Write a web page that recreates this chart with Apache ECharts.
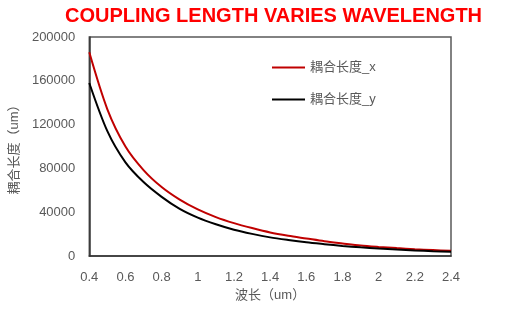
<!DOCTYPE html>
<html>
<head>
<meta charset="utf-8">
<script src="https://cdn.jsdelivr.net/npm/echarts@6/dist/echarts.min.js"></script>
<style>
  html, body { margin: 0; padding: 0; background: #fff; }
  #chart { width: 510px; height: 330px; }
</style>
</head>
<body>
<div id="chart"></div>
<script>
// Wavelength samples (um)
const wavelengths = [0.4, 0.5, 0.6, 0.7, 0.8, 0.9, 1.0, 1.1, 1.2, 1.3, 1.4, 1.5, 1.6, 1.7, 1.8, 1.9, 2.0, 2.1, 2.2, 2.3, 2.4];
// Coupling length, x polarisation (um)
const lengthX = [186000, 134000, 100000, 78500, 63000, 51500, 42500, 35500, 30000, 25500, 21500, 18500, 16000, 13500, 11500, 9600, 8300, 7200, 6200, 5400, 4700];
// Coupling length, y polarisation (um)
const lengthY = [158000, 114000, 85500, 67500, 54000, 43000, 35000, 29000, 24000, 20200, 17000, 14600, 12500, 10800, 9200, 7900, 6800, 5900, 5100, 4400, 3900];
const seriesNames = ['耦合长度_x', '耦合长度_y'];

const pairs = (xs, ys) => xs.map((x, i) => [x, ys[i]]);
const gray = '#595959';
const font = '"Liberation Sans", "Noto Sans CJK SC", sans-serif';

const chart = echarts.init(document.getElementById('chart'), null, { renderer: 'canvas' });
chart.setOption({
  animation: false,
  backgroundColor: '#fff',
  title: {
    text: 'COUPLING LENGTH VARIES WAVELENGTH',
    left: 65, top: 6, padding: 0,
    textStyle: { color: '#FF0000', fontSize: 20, fontWeight: 'bold', fontFamily: font }
  },
  legend: {
    orient: 'vertical',
    left: 267, top: 56,
    itemWidth: 33, itemHeight: 2, itemGap: 19,
    icon: 'rect',
    textStyle: { color: gray, fontSize: 13, fontFamily: font },
    data: seriesNames
  },
  grid: {
    left: 89, right: 59, top: 37, bottom: 74,
    show: true, borderColor: '#595959', borderWidth: 1.5
  },
  xAxis: {
    type: 'value', min: 0.4, max: 2.4, interval: 0.2,
    name: '波长（um）', nameLocation: 'middle', nameGap: 33,
    nameTextStyle: { color: gray, fontSize: 13, fontFamily: font },
    axisLine: { lineStyle: { color: '#333', width: 1.5 } },
    axisTick: { show: false },
    splitLine: { show: false },
    axisLabel: { color: gray, fontSize: 13, fontFamily: font, margin: 15 }
  },
  yAxis: {
    type: 'value', min: 0, max: 200000, interval: 40000,
    name: '耦合长度（um）', nameLocation: 'middle', nameGap: 62,
    nameTextStyle: { color: gray, fontSize: 13, fontFamily: font },
    axisLine: { show: true, lineStyle: { color: '#333', width: 1.5 } },
    axisTick: { show: false },
    splitLine: { show: false },
    axisLabel: { color: gray, fontSize: 13, fontFamily: font, margin: 14, formatter: v => String(v) }
  },
  series: [
    {
      name: seriesNames[0], type: 'line', smooth: 0.3, showSymbol: false,
      data: pairs(wavelengths, lengthX),
      lineStyle: { color: '#C00000', width: 2 }, itemStyle: { color: '#C00000' }
    },
    {
      name: seriesNames[1], type: 'line', smooth: 0.3, showSymbol: false,
      data: pairs(wavelengths, lengthY),
      lineStyle: { color: '#000000', width: 2 }, itemStyle: { color: '#000000' }
    }
  ]
});
</script>
</body>
</html>
